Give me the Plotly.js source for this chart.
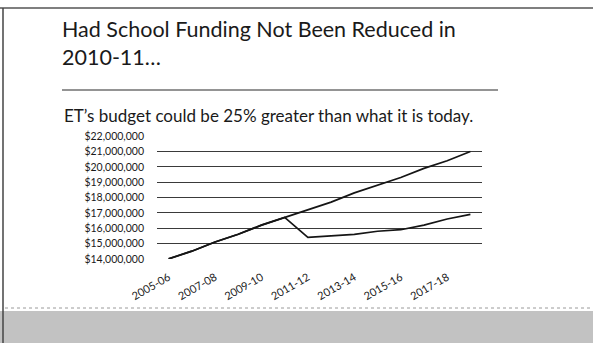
<!DOCTYPE html>
<html>
<head>
<meta charset="utf-8">
<script src="https://cdn.plot.ly/plotly-3.0.1.min.js"></script>
<style>
  html, body { margin: 0; padding: 0; background: #ffffff; }
  #chart { width: 593px; height: 343px; }
</style>
</head>
<body>
<div id="chart"></div>
<script>
// Fiscal years (categories)
const years = ["2005-06","2006-07","2007-08","2008-09","2009-10","2010-11","2011-12",
               "2012-13","2013-14","2014-15","2015-16","2016-17","2017-18","2018-19"];
// Labelled ticks
const tickYears = ["2005-06","2007-08","2009-10","2011-12","2013-14","2015-16","2017-18"];
// Budget had funding not been reduced in 2010-11
const projected = [14.0e6,14.5e6,15.1e6,15.6e6,16.2e6,16.7e6,17.2e6,
                   17.7e6,18.3e6,18.8e6,19.3e6,19.9e6,20.4e6,21.0e6];
// Actual budget
const actual    = [14.0e6,14.5e6,15.1e6,15.6e6,16.2e6,16.7e6,15.4e6,
                   15.5e6,15.6e6,15.8e6,15.9e6,16.2e6,16.6e6,16.9e6];

const font = "Lato, 'Open Sans', 'DejaVu Sans', sans-serif";

const traces = [
  { x: years, y: projected, type: "scatter", mode: "lines", name: "Had funding not been reduced",
    line: { color: "#151515", width: 1.7 }, hoverinfo: "x+y" },
  { x: years, y: actual, type: "scatter", mode: "lines", name: "Actual",
    line: { color: "#151515", width: 1.7 }, hoverinfo: "x+y" }
];

const layout = {
  width: 593, height: 343,
  paper_bgcolor: "#ffffff", plot_bgcolor: "rgba(0,0,0,0)",
  margin: { l: 157, r: 111, t: 136, b: 84, pad: 0 },
  showlegend: false,
  font: { family: font, color: "#1a1a1a" },
  title: {
    text: "Had School Funding Not Been Reduced in<br>2010-11…",
    font: { family: font, size: 21.5, color: "#1a1a1a" },
    xref: "container", yref: "container",
    x: 62/593, xanchor: "left",
    y: 1 - 37/343, yanchor: "top",
    pad: { t: 0, b: 0, l: 0, r: 0 }
  },
  xaxis: {
    type: "category",
    range: [-0.5, 13.5],
    tickmode: "array", tickvals: tickYears, ticktext: tickYears,
    tickangle: -30,
    tickfont: { family: font, size: 11, color: "#1a1a1a" },
    showgrid: false, zeroline: false, showline: false, ticks: "",
    ticklabelstandoff: 9
  },
  yaxis: {
    range: [13.99e6, 22.01e6],
    dtick: 1e6, tick0: 0,
    tickformat: "$,.0f",
    tickfont: { family: font, size: 10.5, color: "#1a1a1a" },
    showgrid: true, gridcolor: "#3a3a3a", gridwidth: 1.3,
    zeroline: false, showline: false, ticks: "",
    ticklabelstandoff: 12
  },
  annotations: [
    { text: "ET’s budget could be 25% greater than what it is today.",
      xref: "paper", yref: "paper", x: -95/325, y: 1 + 21/123,
      xanchor: "left", yanchor: "middle", showarrow: false,
      font: { family: font, size: 17, color: "#1a1a1a" } }
  ],
  shapes: [
    // rule under title
    { type: "line", xref: "paper", yref: "paper",
      x0: -95/325, x1: 341/325, y0: 1 + 46/123, y1: 1 + 46/123,
      line: { color: "#2a2a2a", width: 1.2 } },
    // top border of slide
    { type: "line", xref: "paper", yref: "paper",
      x0: -157/325, x1: 436/325, y0: 1 + 128/123, y1: 1 + 128/123,
      line: { color: "#555555", width: 1.5 } },
    // left border of slide
    { type: "line", xref: "paper", yref: "paper",
      x0: -154/325, x1: -154/325, y0: 1 + 128/123, y1: -84/123,
      line: { color: "#444444", width: 1.5 } },
    // gray scanned band at bottom
    { type: "rect", xref: "paper", yref: "paper", layer: "below",
      x0: -157/325, x1: 436/325, y0: -52/123, y1: -84/123,
      fillcolor: "#c2c2c2", line: { width: 0 } },
    { type: "line", xref: "paper", yref: "paper",
      x0: -152/325, x1: 436/325, y0: -49/123, y1: -49/123,
      line: { color: "#9a9a9a", width: 1, dash: "dot" } }
  ]
};

Plotly.newPlot("chart", traces, layout, { displayModeBar: false, staticPlot: true });
</script>
</body>
</html>
